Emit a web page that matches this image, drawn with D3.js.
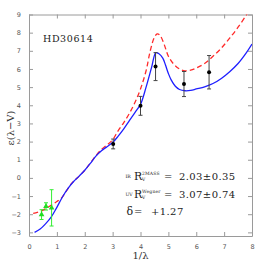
<!DOCTYPE html>
<html>
<head>
<meta charset="utf-8">
<script src="https://cdn.jsdelivr.net/npm/d3@7"></script>
<style>
  body { margin: 0; background: #fff; }
  text { font-family: "DejaVu Serif", serif; }
</style>
</head>
<body>
<div name="chart"></div>
<script>
// --- data

const blueX = [0.2, 0.4, 0.6, 0.8, 1.0, 1.2, 1.4, 1.6, 1.8, 2.0, 2.2, 2.4, 2.6, 2.8, 3.0, 3.2, 3.4, 3.6, 3.8, 4.0, 4.2, 4.4, 4.55, 4.65, 4.8, 4.9, 5.0, 5.1, 5.25, 5.4, 5.6, 5.8, 6.0, 6.3, 6.6, 6.9, 7.2, 7.5, 7.8, 8.0];
const blueY = [-3.0, -2.82, -2.52, -2.15, -1.62, -1.05, -0.58, -0.2, 0.1, 0.42, 0.8, 1.2, 1.5, 1.72, 1.95, 2.3, 2.7, 3.15, 3.6, 4.05, 5.0, 6.1, 6.9, 6.85, 6.6, 6.2, 5.75, 5.4, 5.05, 4.87, 4.8, 4.82, 4.9, 5.02, 5.2, 5.48, 5.85, 6.3, 6.9, 7.37];

const redX = [0.15, 0.4, 0.75, 1.0, 1.17, 1.35, 1.53, 1.7, 2.0, 2.2, 2.4, 2.6, 2.8, 3.0, 3.2, 3.4, 3.6, 3.8, 4.0, 4.2, 4.35, 4.5, 4.6, 4.7, 4.85, 5.0, 5.2, 5.4, 5.6, 5.8, 6.0, 6.3, 6.6, 6.9, 7.2, 7.5, 7.85, 8.0];
const redY = [-1.96, -1.85, -1.55, -1.3, -1.1, -0.7, -0.3, -0.05, 0.42, 0.82, 1.22, 1.57, 1.82, 2.1, 2.6, 3.05, 3.55, 4.15, 4.9, 5.9, 7.0, 7.75, 7.93, 7.85, 7.35, 6.7, 6.25, 6.0, 5.9, 5.93, 6.05, 6.3, 6.7, 7.15, 7.7, 8.3, 9.1, 9.5];

// UV points (black)
const uvX = [3.02, 4.0, 4.54, 5.56, 6.46];
const uvY = [1.87, 3.97, 6.13, 5.17, 5.82];
const uvErr = [0.27, 0.52, 0.77, 0.69, 0.92];

// IR points (green)
const irX = [0.45, 0.61, 0.81];
const irY = [-2.02, -1.57, -1.65];
const irErr = [0.27, 0.2, 1.0];

const xTicks = [0, 1, 2, 3, 4, 5, 6, 7, 8];
const yTicks = [-3, -2, -1, 0, 1, 2, 3, 4, 5, 6, 7, 8, 9];

const starName = 'HD30614';

// ---

const W = 266, H = 266;
const margin = { top: 14.5, right: 14, bottom: 30, left: 29 };
const width = W - margin.left - margin.right;
const height = H - margin.top - margin.bottom;

const svg = d3.select('div[name=chart]').append('svg')
  .attr('width', W)
  .attr('height', H);

const x = d3.scaleLinear().domain([0, 8]).range([margin.left, margin.left + width]);
const y = d3.scaleLinear().domain([-3.2, 9]).range([margin.top + height, margin.top]);

svg.append('clipPath').attr('id', 'plot')
  .append('rect')
  .attr('x', margin.left).attr('y', margin.top)
  .attr('width', width).attr('height', height);

// Frame + ticks on all four sides
const axisColor = '#9a9a9a';
const styleAxis = g => {
  g.select('.domain').attr('stroke', axisColor);
  g.selectAll('.tick line').attr('stroke', axisColor);
  g.selectAll('.tick text').attr('fill', '#555').style('font-family', 'DejaVu Sans, sans-serif').style('font-size', '6.5px');
};

svg.append('g')
  .attr('transform', `translate(0, ${margin.top + height})`)
  .call(d3.axisBottom(x).tickValues(xTicks).tickSize(-4).tickPadding(8).tickSizeOuter(0))
  .call(styleAxis);
svg.append('g')
  .attr('transform', `translate(0, ${margin.top})`)
  .call(d3.axisTop(x).tickValues(xTicks).tickSize(-4).tickFormat('').tickSizeOuter(0))
  .call(styleAxis);
svg.append('g')
  .attr('transform', `translate(${margin.left}, 0)`)
  .call(d3.axisLeft(y).tickValues(yTicks).tickSize(-4).tickPadding(8).tickSizeOuter(0))
  .call(styleAxis);
svg.append('g')
  .attr('transform', `translate(${margin.left + width}, 0)`)
  .call(d3.axisRight(y).tickValues(yTicks).tickSize(-4).tickFormat('').tickSizeOuter(0))
  .call(styleAxis);

// Curves
const lineGen = d3.line().x(d => x(d[0])).y(d => y(d[1])).curve(d3.curveCatmullRom.alpha(0.5));

const curves = svg.append('g').attr('clip-path', 'url(#plot)');

curves.append('path')
  .datum(d3.zip(redX, redY))
  .attr('fill', 'none')
  .attr('stroke', '#ff2a2a')
  .attr('stroke-width', 1.3)
  .attr('stroke-dasharray', '5,3')
  .attr('d', lineGen);

curves.append('path')
  .datum(d3.zip(blueX, blueY))
  .attr('fill', 'none')
  .attr('stroke', '#1f1fff')
  .attr('stroke-width', 1.3)
  .attr('d', lineGen);

// Error bars + points
const drawErr = (xs, ys, es, color) => {
  const g = svg.append('g');
  xs.forEach((xv, i) => {
    const top = y(ys[i] + es[i]), bot = y(ys[i] - es[i]), cx = x(xv);
    g.append('line').attr('x1', cx).attr('x2', cx).attr('y1', top).attr('y2', bot)
      .attr('stroke', color).attr('stroke-width', 1);
    [top, bot].forEach(yy => {
      g.append('line').attr('x1', cx - 2).attr('x2', cx + 2).attr('y1', yy).attr('y2', yy)
        .attr('stroke', color).attr('stroke-width', 1);
    });
  });
};

drawErr(uvX, uvY, uvErr, '#444');
drawErr(irX, irY, irErr, '#33ee33');

svg.append('g').selectAll('circle')
  .data(d3.zip(uvX, uvY))
  .enter()
  .append('circle')
  .attr('cx', d => x(d[0]))
  .attr('cy', d => y(d[1]))
  .attr('r', 2)
  .attr('fill', '#000');

svg.append('g').selectAll('path')
  .data(d3.zip(irX, irY))
  .enter()
  .append('path')
  .attr('transform', d => `translate(${x(d[0])}, ${y(d[1])})`)
  .attr('d', d3.symbol(d3.symbolTriangle, 14))
  .attr('fill', '#22dd22');

// Labels
svg.append('text')
  .attr('x', 43).attr('y', 42)
  .attr('font-size', 9.5)
  .attr('letter-spacing', 0.6)
  .attr('fill', '#222')
  .text(starName);

svg.append('text')
  .attr('transform', `translate(14, 128) rotate(-90)`)
  .attr('text-anchor', 'middle')
  .attr('font-size', 10)
  .attr('fill', '#333')
  .text('ε(λ−V)');

svg.append('text')
  .attr('x', x(4)).attr('y', 259)
  .attr('text-anchor', 'middle')
  .attr('font-size', 10)
  .attr('fill', '#333')
  .text('1/λ');

// Annotations
const ann = svg.append('g').attr('fill', '#222');
const rLine = (yb, pre, sup, val) => {
  ann.append('text').attr('x', 125.5).attr('y', yb - 1.5).attr('font-size', 4.6).text(pre);
  ann.append('text').attr('x', 134).attr('y', yb).attr('font-size', 11).text('R');
  ann.append('text').attr('x', 142).attr('y', yb - 5).attr('font-size', 4.5).attr('letter-spacing', 0.2).text(sup);
  ann.append('text').attr('x', 142).attr('y', yb + 1.5).attr('font-size', 4.5).text('V');
  ann.append('text').attr('x', 164).attr('y', yb).attr('font-size', 10).text('=');
  ann.append('text').attr('x', 179).attr('y', yb).attr('font-size', 10).attr('letter-spacing', 0.4).text(val);
};
rLine(179.5, 'IR', '2MASS', '2.03±0.35');
rLine(197.5, 'UV', 'Wegner', '3.07±0.74');

ann.append('text').attr('x', 126.5).attr('y', 215).attr('font-size', 11).text('δ');
ann.append('text').attr('x', 134).attr('y', 215).attr('font-size', 10).text('=');
ann.append('text').attr('x', 151).attr('y', 215).attr('font-size', 10).attr('letter-spacing', 0.4).text('+1.27');
</script>
</body>
</html>
